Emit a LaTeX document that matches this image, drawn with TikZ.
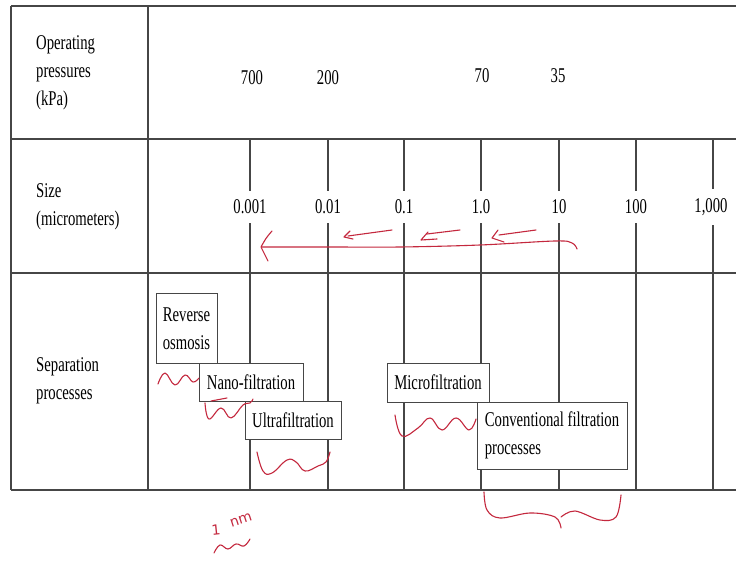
\documentclass[tikz,border=0pt]{standalone}
\usepackage{fontspec}
\setmainfont{Liberation Serif}[FakeStretch=0.7]
\newfontfamily\handfont{DejaVu Sans}
\definecolor{inkred}{RGB}{196,40,62}
\definecolor{gridgray}{RGB}{70,70,70}
\begin{document}
\begin{tikzpicture}[x=1pt,y=-1pt,
  grid/.style={draw=gridgray, line width=1.1pt},
  txt/.style={font=\fontsize{21}{28}\selectfont},
  lbl/.style={txt, align=left, anchor=west, inner sep=0pt},
  val/.style={txt, inner sep=0pt},
  sizelbl/.style={txt, fill=white, inner xsep=2pt, inner ysep=9pt},
  proc/.style={txt, draw=gridgray, line width=1pt, fill=white, inner sep=0pt, align=center},
  ink/.style={draw=inkred, line width=1.1pt, line cap=round, line join=round},
  hand/.style={text=inkred, font=\handfont\fontsize{14}{14}\selectfont, inner sep=0pt},
]
\useasboundingbox (0,0) rectangle (736,561);
\fill[white] (0,0) rectangle (736,561);

% table frame
\draw[grid] (11,6) -- (736,6);
\draw[grid] (11,139) -- (736,139);
\draw[grid] (11,273) -- (736,273);
\draw[grid] (11,490) -- (736,490);
\draw[grid] (11,6) -- (11,490);
\draw[grid] (148,6) -- (148,490);
\foreach \x in {250,328,404,481,559,636,713}
  \draw[grid] (\x,139) -- (\x,490);

% row headings
\node[lbl] (hp) at (36,73) {Operating\\pressures\\(kPa)};
\node[lbl] (hs) at (36,207) {Size\\(micrometers)};
\node[lbl] (hsp) at (36,381) {Separation\\processes};

% pressures
\node[val] (p700) at (252,78) {700};
\node[val] (p200) at (328,78) {200};
\node[val] (p70) at (482,76) {70};
\node[val] (p35) at (558,76) {35};

% sizes
\node[sizelbl] (s1) at (250,207) {0.001};
\node[sizelbl] (s2) at (328,207) {0.01};
\node[sizelbl] (s3) at (404,207) {0.1};
\node[sizelbl] (s4) at (481,207) {1.0};
\node[sizelbl] (s5) at (559,207) {10};
\node[sizelbl] (s6) at (636,207) {100};
\node[sizelbl] (s7) at (711,207) {1,000};

% processes
\node[proc, minimum width=61pt, minimum height=69pt] (ro) at (186.5,328.5) {Reverse\\osmosis};
\node[proc, minimum width=104pt, minimum height=38pt] (nf) at (251,382) {Nano-filtration};
\node[proc, minimum width=96pt, minimum height=38pt] (uf) at (293,420) {Ultrafiltration};
\node[proc, minimum width=102pt, minimum height=39pt] (mf) at (438,382.5) {Microfiltration};
\node[proc, minimum width=150pt, minimum height=67pt, align=left] (cf) at (552,435.5) {Conventional filtration\\processes};

% red annotations: arrows in size row
\draw[ink] plot[smooth, tension=0.6] coordinates {(577,249) (572,243) (555,241) (480,245) (400,247) (330,247) (262,247)};
\draw[ink] (272,231) .. controls (266,238) .. (261,247) .. controls (264,253) .. (268,261);
\draw[ink] (392,230) -- (348,236);
\draw[ink] (350,231) -- (344,237) -- (353,239);
\draw[ink] (460,230) -- (427,234);
\draw[ink] (428,232) -- (421,240) -- (437,239);
\draw[ink] (536,230) -- (499,235);
\draw[ink] (498,230) -- (492,238) -- (504,242);

% squiggles
\draw[ink] plot[smooth, tension=0.7] coordinates {(158,384) (165,373) (175,385) (185,375) (193,382) (199,378)};
\draw[ink] (211,401) -- (227,398);
\draw[ink] plot[smooth, tension=0.7] coordinates {(205,403) (209,419) (221,408) (231,418) (243,405) (250,403) (253,399)};
\draw[ink] plot[smooth, tension=0.7] coordinates {(257,452) (263,471) (272,473) (287,460) (296,462) (305,471) (318,466) (326,462) (330,452)};
\draw[ink] plot[smooth, tension=0.7] coordinates {(395,415) (402,436) (418,428) (430,418) (442,430) (456,418) (469,430) (476,419)};
\draw[ink] plot[smooth, tension=0.6] coordinates {(484,492) (487,510) (500,518) (530,513) (555,517) (561,528)};
\draw[ink] plot[smooth, tension=0.6] coordinates {(561,517) (575,511) (600,520) (616,517) (621,495)};

% 1 nm
\node[hand, rotate=6] (one) at (216,530) {1};
\node[hand, rotate=18] (nm) at (241,520) {nm};
\draw[ink] plot[smooth, tension=0.7] coordinates {(214,553) (220,545) (228,549) (236,544) (244,546) (250,539)};
\end{tikzpicture}
\end{document}
